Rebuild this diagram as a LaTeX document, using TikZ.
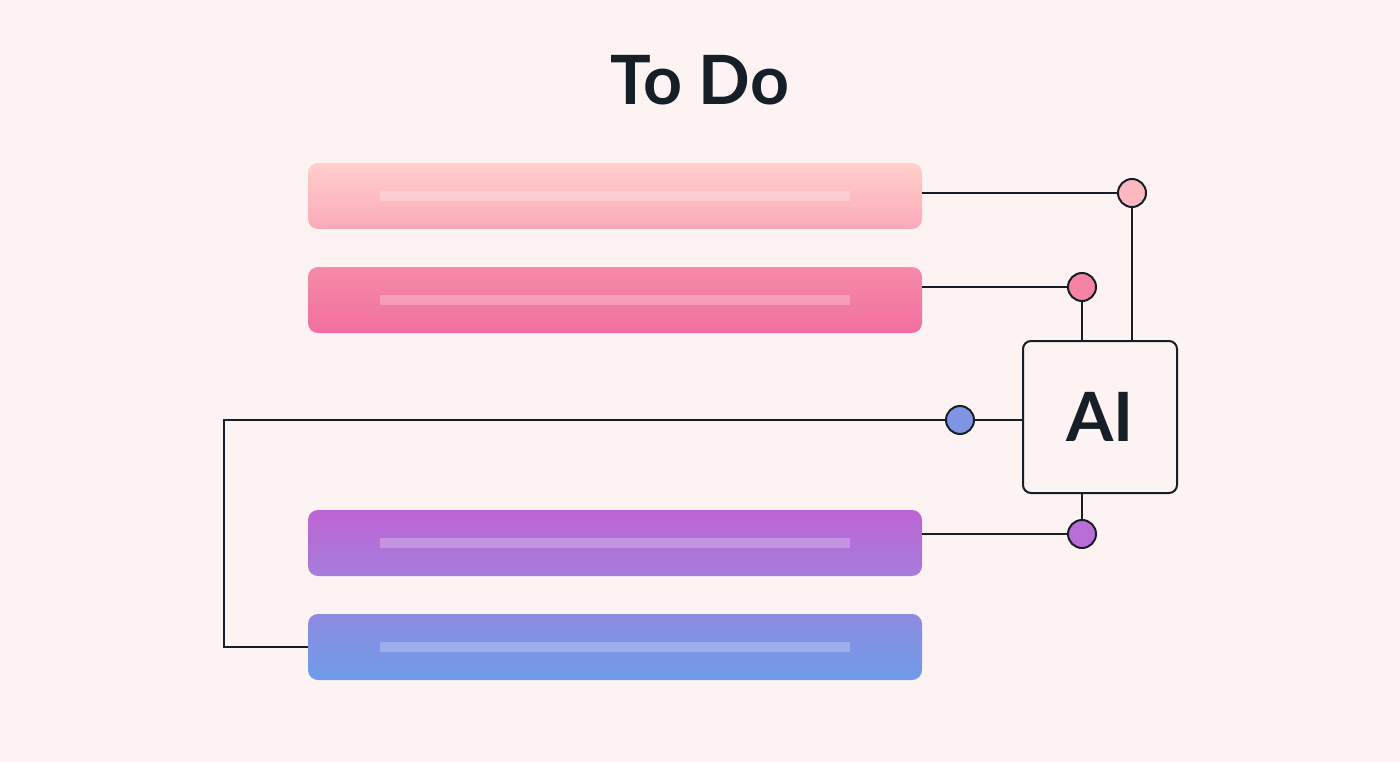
\documentclass[tikz,border=0pt]{standalone}
\usepackage{fontspec}
\setmainfont{Lato}
\definecolor{bg}{HTML}{FDF3F2}
\definecolor{ink}{HTML}{161E27}
\definecolor{roseA}{HTML}{FFD0CB}
\definecolor{roseB}{HTML}{FBA9B9}
\definecolor{pinkA}{HTML}{F58BA8}
\definecolor{pinkB}{HTML}{F26F9F}
\definecolor{violA}{HTML}{BE64D4}
\definecolor{violB}{HTML}{A67DDC}
\definecolor{blueA}{HTML}{8E8BE0}
\definecolor{blueB}{HTML}{6E9CE8}
\definecolor{roseDot}{HTML}{FBB8C0}
\definecolor{pinkDot}{HTML}{F583A4}
\definecolor{blueDot}{HTML}{7F95E4}
\definecolor{violDot}{HTML}{B96DD6}
\begin{document}
\begin{tikzpicture}[x=1pt,y=-1pt,
  bar/.style={minimum width=614pt,minimum height=66pt,rounded corners=10pt,inner sep=0pt},
  stripe/.style={fill=white,fill opacity=.25,minimum width=470pt,minimum height=10pt,inner sep=0pt},
  dot/.style={circle,draw=ink,line width=2pt,minimum size=28pt,inner sep=0pt},
  wire/.style={draw=ink,line width=2pt},
  big/.style={text=ink,font=\fontsize{68}{72}\selectfont\bfseries}]
\fill[bg] (0,0) rectangle (1400,762);

\node[big] (title) at (700,80) {To Do};

% task bars
\foreach \n/\y/\top/\bot in {b1/196/roseA/roseB,b2/300/pinkA/pinkB,b3/543/violA/violB,b4/647/blueA/blueB}{
  \node[bar,top color=\top,bottom color=\bot] (\n) at (615,\y) {};
  \node[stripe] at (\n) {};
}

\node[draw=ink,line width=2pt,rounded corners=8pt,minimum width=154pt,minimum height=152pt,big] (ai) at (1100,417) {AI};

\node[dot,fill=roseDot] (c1) at (1132,193) {};
\node[dot,fill=pinkDot] (c2) at (1082,287) {};
\node[dot,fill=blueDot] (c3) at (960,420) {};
\node[dot,fill=violDot] (c4) at (1082,534) {};
\coordinate (turn) at (224,420);

\draw[wire] (b1.east |- c1) -- (c1.west);
\draw[wire] (c1.south) -- (c1.south |- ai.north);
\draw[wire] (b2.east |- c2) -- (c2.west);
\draw[wire] (c2.south) -- (c2.south |- ai.north);
\draw[wire] (c3.east) -- (c3.east -| ai.west);
\draw[wire] (c3.west) -- (turn) |- (b4.west);
\draw[wire] (b3.east |- c4) -- (c4.west);
\draw[wire] (c4.north) -- (c4.north |- ai.south);
\end{tikzpicture}
\end{document}
